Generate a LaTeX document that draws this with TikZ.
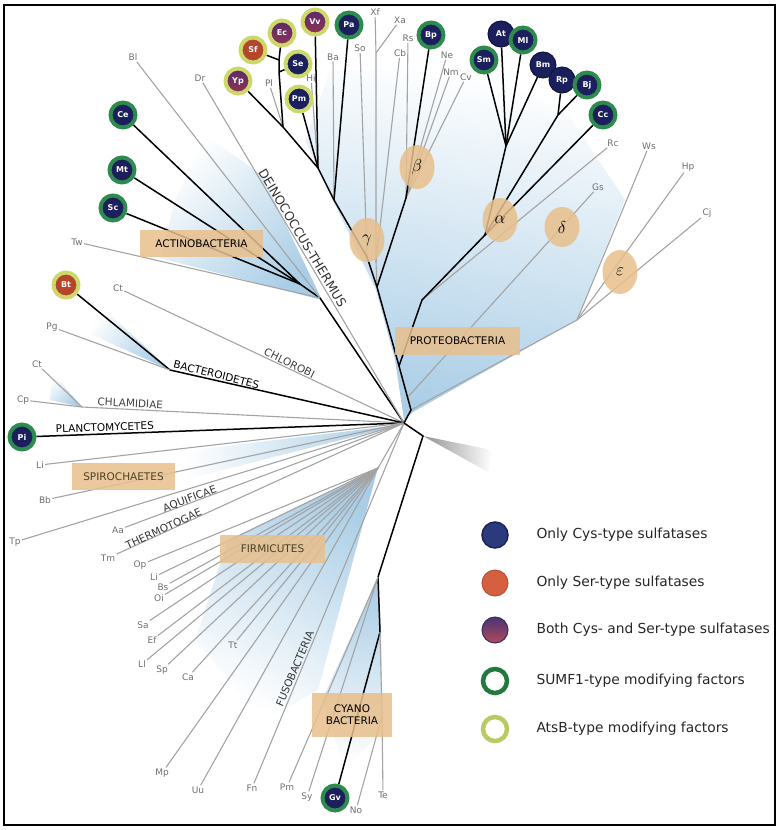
\documentclass[tikz,border=0pt]{standalone}
\usepackage{fontspec}
\setmainfont{DejaVu Sans}
\usetikzlibrary{shapes.geometric}
\pgfdeclarelayer{bg}
\pgfdeclarelayer{lines}
\pgfsetlayers{bg,lines,main}
\definecolor{navy}{HTML}{1B1F5C}
\definecolor{navydk}{HTML}{10143F}
\definecolor{sgreen}{HTML}{2E8B4E}
\definecolor{ygreen}{HTML}{CCD96A}
\definecolor{serred}{HTML}{B5452B}
\definecolor{bothA}{HTML}{5B2A6E}
\definecolor{bothB}{HTML}{8E3450}
\definecolor{tanc}{HTML}{E8BF8C}
\definecolor{lb}{HTML}{A9CDE6}
\definecolor{lgray}{HTML}{A3A3A3}
\definecolor{labc}{HTML}{6E6E6E}
\definecolor{olivec}{HTML}{4A4226}
\definecolor{lcys}{HTML}{2B3A7C}
\definecolor{lcysd}{HTML}{1B2258}
\definecolor{lser}{HTML}{D5603F}
\definecolor{lbothA}{HTML}{4A3575}
\definecolor{lbothB}{HTML}{B04A5A}
\definecolor{lsumf}{HTML}{217A3D}
\definecolor{latsb}{HTML}{B9C963}
\begin{document}
\begin{tikzpicture}[x=1pt,y=-1pt,
 gl/.style={draw=lgray,line width=1.1pt},
 bk/.style={draw=black,line width=1.5pt},
 leaf/.style={font=\fontsize{9}{9}\selectfont,text=labc,inner sep=1.2pt},
 org/.style={circle,minimum size=25pt,inner sep=0pt,line width=4pt,font=\bfseries\fontsize{8}{8}\selectfont,text=white},
 cys/.style={org,fill=navy},
 ser/.style={org,fill=serred},
 both/.style={org,top color=bothA,bottom color=bothB},
 plain/.style={org,fill=navy,draw=navydk,line width=1pt,minimum size=26pt},
 sumf/.style={draw=sgreen},
 atsb/.style={draw=ygreen},
 gbox/.style={fill=tanc,fill opacity=0.85,text opacity=1,inner sep=0pt,font=\fontsize{10.5}{12}\selectfont,text=black},
 grp/.style={font=\fontsize{10.5}{12}\selectfont,inner sep=1.5pt,anchor=south},
 greek/.style={ellipse,fill=tanc,fill opacity=0.85,text opacity=1,minimum width=35pt,minimum height=44pt,inner sep=0pt,font=\fontsize{16}{16}\selectfont},
 legtxt/.style={anchor=west,font=\fontsize{13.8}{14}\selectfont,text=black!85},
 legc/.style={circle,minimum size=26pt,inner sep=0pt}
]
\useasboundingbox (0,0) rectangle (782,830);

% ---------- shading ----------
\begin{pgfonlayer}{bg}
\shade[top color=white,middle color=lb!50,bottom color=lb,shading angle=-10]
  (404,420) -- (395,360) -- (376,290) -- (335,205) -- (305,140) -- (330,70) -- (470,70) -- (565,110) -- (625,200) -- (577,320) -- (413,412) -- cycle;
\shade[top color=white,bottom color=lb,shading angle=45]
  (322,300) -- (160,258) -- (175,200) -- (205,135) -- (262,175) -- cycle;
\shade[top color=white,bottom color=lb,shading angle=55] (170,370) -- (100,305) -- (88,333) -- cycle;
\shade[top color=white,bottom color=lb,shading angle=45] (82,407) -- (52,372) -- (50,400) -- cycle;
\shade[top color=white,bottom color=lb,shading angle=80] (400,425) -- (175,452) -- (175,482) -- cycle;
\shade[top color=white,bottom color=lb,shading angle=150]
  (378,468) -- (228,540) -- (195,640) -- (262,722) -- (318,690) -- cycle;
\shade[top color=white,bottom color=lb,shading angle=175]
  (378,578) -- (322,700) -- (345,770) -- (383,730) -- (381,632) -- cycle;
\shade[left color=gray!85,right color=white] (423,436) -- (492,450) -- (488,472) -- cycle;
\end{pgfonlayer}

% ---------- organisms ----------
\node[both,atsb] (Yp) at (238,81) {Yp};
\node[ser,atsb] (Sf) at (253,50) {Sf};
\node[both,atsb] (Ec) at (282,33) {Ec};
\node[both,atsb] (Vv) at (315,22) {Vv};
\node[cys,sumf] (Pa) at (349,25) {Pa};
\node[cys,atsb] (Se) at (298,64) {Se};
\node[cys,atsb] (Pm) at (299,99) {Pm};
\node[cys,sumf] (Bp) at (431,35) {Bp};
\node[plain] (At) at (501,34) {At};
\node[cys,sumf] (Ml) at (523,40) {Ml};
\node[cys,sumf] (Sm) at (484,60) {Sm};
\node[plain] (Bm) at (543,65) {Bm};
\node[plain] (Rp) at (562,80) {Rp};
\node[cys,sumf] (Bj) at (587,85) {Bj};
\node[cys,sumf] (Cc) at (603,115) {Cc};
\node[cys,sumf] (Ce) at (123,115) {Ce};
\node[cys,sumf] (Mt) at (122,170) {Mt};
\node[cys,sumf] (Sc) at (113,208) {Sc};
\node[ser,atsb] (Bt) at (66,285) {Bt};
\node[cys,sumf] (Pi) at (22,437) {Pi};
\node[cys,sumf] (Gv) at (335,798) {Gv};

% ---------- leaf labels ----------
\node[leaf] (Bl) at (133,57) {Bl};
\node[leaf] (Dr) at (200,78) {Dr};
\node[leaf] (Tw) at (77,242) {Tw};
\node[leaf] (Ct) at (118,288) {Ct};
\node[leaf] (Pg) at (52,327) {Pg};
\node[leaf] (Ct2) at (37,364) {Ct};
\node[leaf] (Cp) at (23,400) {Cp};
\node[leaf] (Li) at (40,465) {Li};
\node[leaf] (Bb) at (45,500) {Bb};
\node[leaf] (Tp) at (15,542) {Tp};
\node[leaf] (Aa) at (118,530) {Aa};
\node[leaf] (Tm) at (108,558) {Tm};
\node[leaf] (Op) at (140,565) {Op};
\node[leaf] (Li2) at (154,577) {Li};
\node[leaf] (Bs) at (163,587) {Bs};
\node[leaf] (Oi) at (159,598) {Oi};
\node[leaf] (Sa) at (143,625) {Sa};
\node[leaf] (Ef) at (152,640) {Ef};
\node[leaf] (Ll) at (142,664) {Ll};
\node[leaf] (Sp) at (162,670) {Sp};
\node[leaf] (Ca) at (188,677) {Ca};
\node[leaf] (Tt) at (233,645) {Tt};
\node[leaf] (Mp) at (162,773) {Mp};
\node[leaf] (Uu) at (198,790) {Uu};
\node[leaf] (Fn) at (252,788) {Fn};
\node[leaf] (Pm2) at (287,787) {Pm};
\node[leaf] (Sy) at (307,797) {Sy};
\node[leaf] (No) at (356,810) {No};
\node[leaf] (Te) at (383,795) {Te};
\node[leaf] (Pl) at (269,83) {Pl};
\node[leaf] (Hi) at (311,78) {Hi};
\node[leaf] (Ba) at (333,57) {Ba};
\node[leaf] (So) at (360,48) {So};
\node[leaf] (Xf) at (375,12) {Xf};
\node[leaf] (Xa) at (400,20) {Xa};
\node[leaf] (Rs) at (408,38) {Rs};
\node[leaf] (Cb) at (400,53) {Cb};
\node[leaf] (Ne) at (447,55) {Ne};
\node[leaf] (Nm) at (451,72) {Nm};
\node[leaf] (Cv) at (466,77) {Cv};
\node[leaf] (Rc) at (613,143) {Rc};
\node[leaf] (Ws) at (649,146) {Ws};
\node[leaf] (Hp) at (688,167) {Hp};
\node[leaf] (Gs) at (598,187) {Gs};
\node[leaf] (Cj) at (707,213) {Cj};

% ---------- internal points ----------
\coordinate (R) at (404,423);
\coordinate (A1) at (300,284);
\coordinate (A2) at (320,298);
\coordinate (B1) at (170,370);
\coordinate (C0) at (82,407);
\coordinate (F) at (378,468);
\coordinate (R2) at (423,436);
\coordinate (C1) at (378,577);
\coordinate (C2) at (380,632);
\coordinate (C3) at (382,716);
\coordinate (PD) at (411,410);
\coordinate (D0) at (407,398);
\coordinate (P0) at (399,366);
\coordinate (GB) at (377,287);
\coordinate (Gn) at (367,257);
\coordinate (g5) at (334,200);
\coordinate (g4) at (318,168);
\coordinate (g3) at (283,127);
\coordinate (g2) at (279,72);
\coordinate (g1) at (279,60);
\coordinate (X1) at (376,53);
\coordinate (X2) at (376,262);
\coordinate (Bn) at (406,198);
\coordinate (A0) at (422,300);
\coordinate (aN) at (485,235);
\coordinate (a1) at (506,146);
\coordinate (a2) at (558,115);
\coordinate (E) at (577,320);

% ---------- branches ----------
\begin{pgfonlayer}{lines}
\draw[bk] (Ce) -- (A1);
\draw[bk] (Mt) -- (A1);
\draw[bk] (Sc) -- (A1);
\draw[bk] (A1) -- (A2) -- (R);
\draw[gl] (Bl) -- (A2);
\draw[gl] (Tw) -- (A2);
\draw[gl] (Dr) -- (R);
\draw[gl] (Ct) -- (R);
\draw[bk] (Bt) -- (B1) -- (R);
\draw[gl] (Pg) -- (B1);
\draw[gl] (Ct2) -- (C0) -- (R);
\draw[gl] (Cp) -- (C0);
\draw[bk] (Pi) -- (R);
\foreach \n in {Li,Bb,Tp,Aa,Tm,Fn} \draw[gl] (\n) -- (R);
\draw[gl] (F) -- (R);
\foreach \n in {Op,Li2,Bs,Oi,Sa,Ef,Ll,Sp,Ca,Tt,Mp,Uu} \draw[gl] (\n) -- (F);
\draw[bk] (R) -- (R2) -- (C1) -- (C2) -- (Gv);
\draw[gl] (Pm2) -- (C1);
\draw[gl] (Sy) -- (C1);
\draw[gl] (C2) -- (C3) -- (Te);
\draw[gl] (No) -- (C3);
% proteobacteria
\draw[gl] (E) -- (PD);
\foreach \n in {Ws,Hp,Cj} \draw[gl] (\n) -- (E);
\draw[gl] (Gs) -- (D0);
\draw[gl] (Rc) -- (A0);
\draw[bk] (R) -- (PD) -- (P0) -- (GB);
\draw[bk] (P0) -- (A0) -- (aN);
\draw[bk] (a1) -- (aN);
\draw[bk] (a2) -- (aN);
\draw[bk] (Cc) -- (aN);
\foreach \n in {Sm,At,Ml,Bm} \draw[bk] (\n) -- (a1);
\draw[bk] (Rp) -- (a2);
\draw[bk] (Bj) -- (a2);
% gamma
\draw[gl] (Pl) -- (g3);
\draw[gl] (Hi) -- (g4);
\draw[gl] (Ba) -- (g5);
\draw[gl] (So) -- (Gn);
\draw[gl] (Xf) -- (X1) -- (X2) -- (GB);
\draw[gl] (Xa) -- (X1);
\draw[gl] (Cb) -- (X2);
\draw[bk] (GB) -- (Gn) -- (g5) -- (g4) -- (g3) -- (Yp);
\draw[bk] (g3) -- (g2) -- (g1) -- (Sf);
\draw[bk] (g1) -- (Ec);
\draw[bk] (g2) -- (Se);
\draw[bk] (Vv) -- (g4);
\draw[bk] (Pm) -- (g4);
\draw[bk] (Pa) -- (g5);
% beta
\foreach \n in {Rs,Ne,Nm,Cv} \draw[gl] (\n) -- (Bn);
\draw[bk] (GB) -- (Bn) -- (Bp);
\end{pgfonlayer}

% ---------- group boxes ----------
\node[gbox,minimum width=123pt,minimum height=27pt] (bxA) at (201.5,243.5) {ACTINOBACTERIA};
\node[gbox,minimum width=125pt,minimum height=28pt] (bxP) at (457.5,341) {PROTEOBACTERIA};
\node[gbox,minimum width=103pt,minimum height=27pt,text=olivec] (bxS) at (123.5,476.5) {SPIROCHAETES};
\node[gbox,minimum width=105pt,minimum height=28pt,text=olivec] (bxF) at (272.5,549) {FIRMICUTES};
\node[gbox,minimum width=80pt,minimum height=44pt,align=center] (bxC) at (352,715) {CYANO\\BACTERIA};

% ---------- group texts (sitting on their branches) ----------
\node[grp,rotate=-59,text=black!80,font=\fontsize{12.5}{13}\selectfont] (gDT) at (297,241) {DEINOCOCCUS-THERMUS};
\node[grp,rotate=-26,text=black!75] (gCh) at (287,368) {CHLOROBI};
\node[grp,rotate=-14] (gBa) at (215,380) {BACTEROIDETES};
\node[grp,rotate=-3,text=black!75] (gCl) at (130,409) {CHLAMIDIAE};
\node[grp,rotate=2] (gPl) at (105,433) {PLANCTOMYCETES};
\node[grp,rotate=21,text=black!80] (gAq) at (192,505) {AQUIFICAE};
\node[grp,rotate=25,text=black!80] (gTh) at (166,534) {THERMOTOGAE};
\node[grp,rotate=67,text=black!80] (gFu) at (300,671) {FUSOBACTERIA};

% ---------- greek ----------
\node[greek] (gb) at (417,167) {$\beta$};
\node[greek] (gg) at (367,240) {$\gamma$};
\node[greek] (ga) at (500,220) {$\alpha$};
\node[greek,minimum height=40pt] (gd) at (562,227) {$\delta$};
\node[greek] (ge) at (620,272) {$\varepsilon$};

% ---------- legend ----------
\node[legc,fill=lcys,draw=lcysd,line width=1.5pt] (L1) at (495,535) {};
\node[legtxt] (T1) at (533,535) {Only Cys-type sulfatases};
\node[legc,fill=lser,draw=lser!85!black,line width=1pt] (L2) at (495,583) {};
\node[legtxt] (T2) at (533,583) {Only Ser-type sulfatases};
\node[legc,top color=lbothA,bottom color=lbothB,draw=lbothA!80!black,line width=1pt] (L3) at (495,630) {};
\node[legtxt] (T3) at (533,630) {Both Cys- and Ser-type sulfatases};
\node[legc,minimum size=24pt,draw=lsumf,line width=4.5pt] (L4) at (495,681) {};
\node[legtxt] (T4) at (533,681) {SUMF1-type modifying factors};
\node[legc,minimum size=24pt,draw=latsb,line width=4.5pt] (L5) at (495,729) {};
\node[legtxt] (T5) at (533,729) {AtsB-type modifying factors};

% ---------- frame ----------
\draw[line width=1.2pt] (4,5) rectangle (775,825);
\end{tikzpicture}
\end{document}
